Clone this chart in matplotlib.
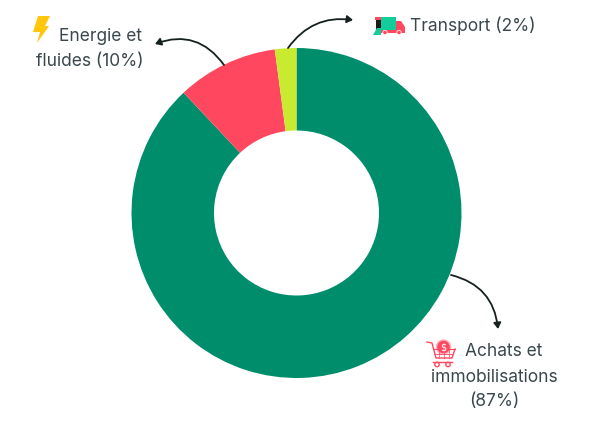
import matplotlib
matplotlib.use("Agg")
import matplotlib.pyplot as plt
from matplotlib.patches import Polygon, Rectangle, Circle, FancyArrowPatch

categories = ["Achats et immobilisations", "Energie et fluides", "Transport"]
values = [88.0, 9.9, 2.1]
colors = ["#008D6C", "#FF4860", "#C8EB2F"]

W, H = 591, 422
text_color = "#3A484C"
plt.rcParams["font.family"] = ["Inter", "DejaVu Sans"]

fig = plt.figure(figsize=(W / 100, H / 100), dpi=100)

# donut
cx, cy, r = 296.5, 213, 165
ax = fig.add_axes([(cx - r) / W, 1 - (cy + r) / H, 2 * r / W, 2 * r / H])
ax.pie(values, colors=colors, startangle=90, counterclock=False, radius=1,
       wedgeprops=dict(width=0.5, linewidth=0))
ax.set_xlim(-1, 1)
ax.set_ylim(-1, 1)

# overlay in pixels for labels
ov = fig.add_axes([0, 0, 1, 1])
ov.set_xlim(0, W)
ov.set_ylim(H, 0)
ov.axis("off")
ov.patch.set_alpha(0)

fs = 12.5
ov.text(59, 36.5, "Energie et", fontsize=fs, color=text_color, ha="left", va="center")
ov.text(144, 61.5, "fluides (10%)", fontsize=fs, color=text_color, ha="right", va="center")
ov.text(410, 26, "Transport (2%)", fontsize=fs, color=text_color, ha="left", va="center")
ov.text(465, 352, "Achats et", fontsize=fs, color=text_color, ha="left", va="center")
ov.text(494, 377, "immobilisations", fontsize=fs, color=text_color, ha="center", va="center")
ov.text(494, 402, "(87%)", fontsize=fs, color=text_color, ha="center", va="center")

# arrows
arrow = dict(arrowstyle="-|>,head_length=3.5,head_width=2.2", color="#14211F", lw=1.3, shrinkA=0, shrinkB=0)
ov.add_patch(FancyArrowPatch((224, 65), (155, 44), connectionstyle="arc3,rad=0.38", **arrow))
ov.add_patch(FancyArrowPatch((288, 48), (353, 20), connectionstyle="arc3,rad=-0.3", **arrow))
ov.add_patch(FancyArrowPatch((451, 275), (498, 329), connectionstyle="arc3,rad=-0.35", **arrow))

# lightning icon
ov.add_patch(Polygon([(38, 16), (50, 16), (45, 26), (49, 26), (37, 43), (40, 32), (33, 32)],
                     closed=True, fc="#FFC60B", ec="none"))

# truck icon
ov.add_patch(Rectangle((381, 17), 15, 14, fc="#12CC9A", ec="none"))
ov.add_patch(Rectangle((376, 20), 5, 11, fc="#1A1A1A", ec="none"))
ov.add_patch(Rectangle((375, 17), 6, 3, fc="#FF4860", ec="none"))
ov.add_patch(Polygon([(373, 35), (377, 28), (381, 28), (381, 35)], closed=True, fc="#12CC9A", ec="none"))
ov.add_patch(Polygon([(396, 21), (401, 21), (405, 27), (405, 32), (396, 32)], closed=True, fc="#FF4860", ec="none"))
ov.add_patch(Rectangle((381, 30), 24, 2.5, fc="#FF4860", ec="none"))
ov.add_patch(Circle((385, 32.5), 2.2, fc="#FF4860", ec="white", lw=0.5))
ov.add_patch(Circle((399, 32.5), 2.2, fc="#FF4860", ec="white", lw=0.5))

# cart icon
cart = "#FF4860"
ov.plot([427, 432, 436, 452, 455], [342, 343, 358, 358, 349], color=cart, lw=1)
ov.plot([433, 455], [349, 349], color=cart, lw=0.8)
ov.plot([434, 453], [354, 354], color=cart, lw=0.6)
for gx in [439, 444, 449]:
    ov.plot([gx, gx], [349, 358], color=cart, lw=0.5)
ov.plot([433, 452], [362, 362], color=cart, lw=1)
ov.add_patch(Circle((437, 364.5), 2.2, fc="white", ec=cart, lw=1))
ov.add_patch(Circle((448, 364.5), 2.2, fc="white", ec=cart, lw=1))
ov.add_patch(Circle((443.5, 347), 7, fc="#FF4860", ec="#FFB0BA", lw=1))
ov.text(443.5, 347, "$", fontsize=7, color="white", ha="center", va="center", family="DejaVu Sans")

fig.savefig("out.png", dpi=100, facecolor="white")
